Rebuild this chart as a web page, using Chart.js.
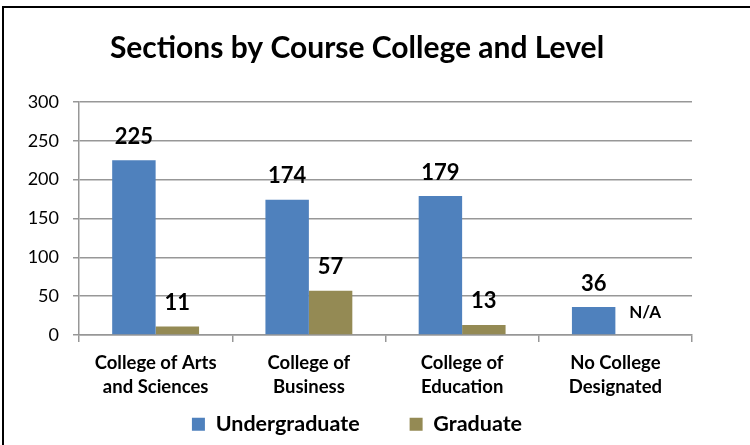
<!DOCTYPE html>
<html>
<head>
<meta charset="utf-8">
<script src="https://cdn.jsdelivr.net/npm/chart.js@4.4.1/dist/chart.umd.min.js"></script>
<style>
html,body{margin:0;padding:0;background:#fff;}
#c{display:block;}
</style>
</head>
<body>
<canvas id="c" width="750" height="445"></canvas>
<script>
const categories = [["College of Arts","and Sciences"],["College of","Business"],["College of","Education"],["No College","Designated"]];
const undergraduate = [225, 174, 179, 36];
const graduate = [11, 57, 13, null];
const seriesNames = ["Undergraduate", "Graduate"];
const yMin = 0, yMax = 300, yStep = 50;
const titleText = "Sections by Course College and Level";
const missingLabel = "N/A";

const FONT = "Lato, 'Open Sans', sans-serif";
const GRID = "#979797";
const LEG_PAD = 50;
const LEG_FONT = 21.5;

const borderPlugin = {
  id: 'frame',
  beforeDraw(chart) {
    const ctx = chart.ctx;
    ctx.save();
    ctx.fillStyle = '#fff';
    ctx.fillRect(0, 0, chart.width, chart.height);
    ctx.strokeStyle = '#000';
    ctx.lineWidth = 2;
    ctx.beginPath();
    ctx.moveTo(3, chart.height);
    ctx.lineTo(3, 7);
    ctx.lineTo(chart.width, 7);
    ctx.stroke();
    ctx.restore();
  }
};

// let the category labels use the space above the legend's item padding
const xLabelRoom = {
  id: 'xLabelRoom',
  afterLayout(chart) {
    const x = chart.scales.x;
    x.bottom = x.top + 80;
    x.height = 80;
  }
};

const valueLabels = {
  id: 'valueLabels',
  afterDatasetsDraw(chart) {
    const ctx = chart.ctx;
    const yScale = chart.scales.y;
    ctx.save();
    ctx.fillStyle = '#000';
    ctx.textAlign = 'center';
    ctx.textBaseline = 'middle';
    chart.data.datasets.forEach((ds, di) => {
      const meta = chart.getDatasetMeta(di);
      meta.data.forEach((bar, i) => {
        const v = ds.data[i];
        if (v === null || v === undefined) {
          ctx.font = "bold 17px " + FONT;
          ctx.fillText(missingLabel, bar.x + 8, yScale.getPixelForValue(0) - 22);
        } else {
          ctx.font = "bold 22px " + FONT;
          ctx.fillText(String(v), bar.x, bar.y - 23.5);
        }
      });
    });
    ctx.restore();
  }
};

new Chart(document.getElementById('c'), {
  type: 'bar',
  data: {
    labels: categories,
    datasets: [
      { label: seriesNames[0], data: undergraduate, backgroundColor: '#4F81BD', borderWidth: 0 },
      { label: seriesNames[1], data: graduate, backgroundColor: '#948A54', borderWidth: 0 }
    ]
  },
  options: {
    responsive: false,
    animation: false,
    layout: { padding: { left: 0, right: 36, top: 0, bottom: 0 } },
    datasets: { bar: { barPercentage: 1, categoryPercentage: 0.567 } },
    plugins: {
      title: {
        display: true,
        text: titleText,
        color: '#000',
        font: { family: FONT, size: 30, weight: 'bold', lineHeight: 1.2 },
        padding: { top: 30, bottom: 36 }
      },
      legend: {
        position: 'bottom',
        labels: {
          color: '#000',
          boxWidth: 13,
          boxHeight: 13,
          padding: LEG_PAD,
          font: { family: FONT, size: LEG_FONT, weight: 'bold' }
        }
      },
      tooltip: { enabled: false }
    },
    scales: {
      x: {
        grid: { offset: true, drawOnChartArea: false, tickLength: 7, color: GRID, lineWidth: 1.5 },
        border: { color: GRID, width: 1.5 },
        ticks: { color: '#000', padding: 9, maxRotation: 0, autoSkip: false,
                 font: { family: FONT, size: 18.5, weight: 'bold', lineHeight: 1.3 } },
        afterFit(scale) { scale.height = 110 - (LEG_FONT + LEG_PAD + 10); }
      },
      y: {
        min: yMin, max: yMax,
        ticks: { stepSize: yStep, color: '#000', padding: 14, font: { family: FONT, size: 18 } },
        grid: { color: GRID, lineWidth: 1.5, tickLength: 6 },
        border: { color: GRID, width: 1.5 },
        afterFit(scale) { scale.width = 79; }
      },
      y2: {
        position: 'right',
        display: true,
        min: yMin, max: yMax,
        ticks: { display: false },
        grid: { display: false },
        border: { display: false },
        afterFit(scale) { scale.width = 22; }
      }
    }
  },
  plugins: [borderPlugin, xLabelRoom, valueLabels]
});
</script>
</body>
</html>
